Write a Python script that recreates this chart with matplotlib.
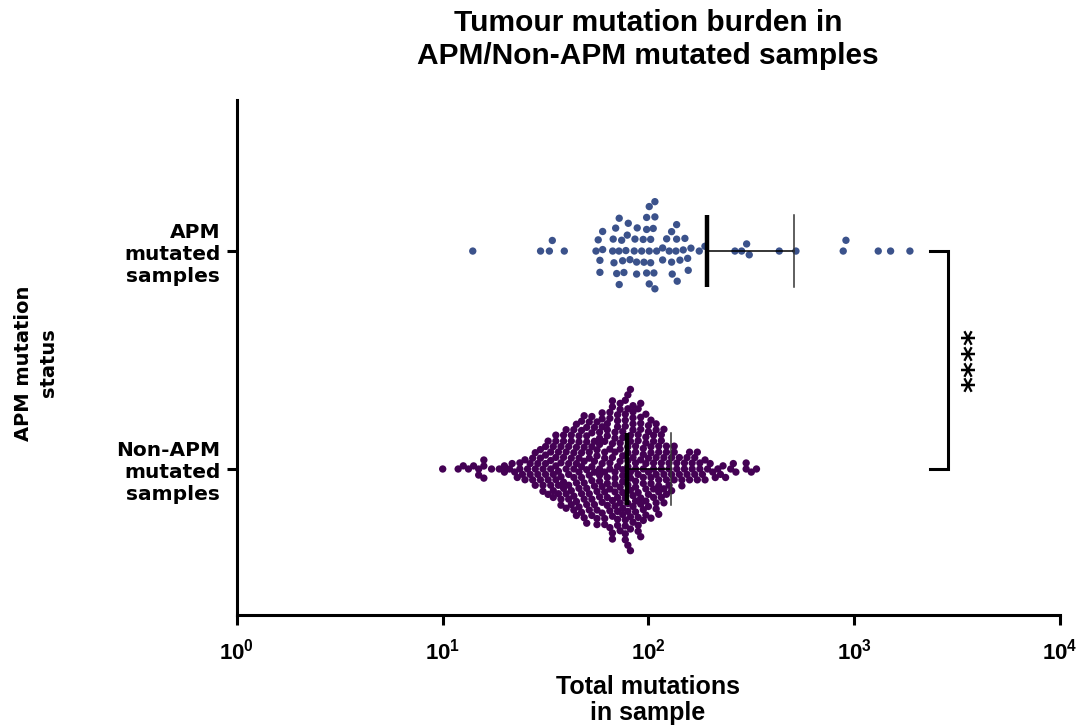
import numpy as np
import matplotlib
matplotlib.use('Agg')
import matplotlib.pyplot as plt

# total mutations per sample, APM mutated group
apm_values = [
    98.0, 107.5,
    59.9, 71.9, 77.7, 106.3, 129.6, 142.3,
    58.1, 67.4, 74.1, 86.0, 92.7, 100.9, 129.6,
    67.0, 72.1, 78.9, 88.2, 95.1, 102.5, 109.6, 117.2, 126.2, 137.1, 150.4, 300.1,
    14.0, 29.9, 39.0, 55.6, 70.1, 79.8, 85.3, 100.9, 122.6, 130.5, 138.0, 147.6,
    156.1, 176.6, 188.2, 263.3, 283.8, 432.3, 521.1, 884.5, 1309, 1503, 1866,
    34.1, 33.0,
    57.0, 69.3, 74.9, 81.3, 87.6, 94.3, 100.9, 105.5, 117.2, 137.1, 155.1, 309.0, 912,
    59.9, 68.0, 76.0, 87.6, 102.5, 136.0, 160.9,
    58.1, 72.1, 98.0, 107.5,
    98.0, 107.5,
]

# non-APM group: mutation count bins and number of samples in each
non_apm_bins = [
    10.0, 10.29, 10.59, 10.90, 11.22, 11.55, 11.89, 12.23, 12.59, 12.96,
    13.34, 13.73, 14.13, 14.54, 14.96, 15.40, 15.85, 16.31, 16.79, 17.28,
    17.78, 18.30, 18.84, 19.39, 19.95, 20.54, 21.13, 21.75, 22.39, 23.04,
    23.71, 24.40, 25.12, 25.85, 26.61, 27.38, 28.18, 29.00, 29.85, 30.72,
    31.62, 32.54, 33.50, 34.47, 35.48, 36.52, 37.58, 38.68, 39.81, 40.97,
    42.17, 43.40, 44.67, 45.97, 47.32, 48.70, 50.12, 51.58, 53.09, 54.64,
    56.23, 57.88, 59.57, 61.31, 63.10, 64.94, 66.83, 68.79, 70.79, 72.86,
    74.99, 77.18, 79.43, 81.75, 84.14, 86.60, 89.13, 91.73, 94.41, 97.17,
    100.0, 102.9, 105.9, 109.0, 112.2, 115.5, 118.9, 122.3, 125.9, 129.6,
    133.4, 137.3, 141.3, 145.4, 149.6, 154.0, 158.5, 163.1, 167.9, 172.8,
    177.8, 183.0, 188.4, 193.9, 199.5, 205.4, 211.3, 217.5, 223.9, 230.4,
    237.1, 244.0, 251.2, 258.5, 266.1, 273.8, 281.8, 290.0, 298.5, 307.2,
    316.2, 325.4, 335.0, 344.7,
]
non_apm_counts = [
    1, 0, 0, 0, 0, 0, 1, 0, 1, 0,
    1, 0, 1, 0, 2, 0, 3, 0, 0, 1,
    0, 0, 1, 0, 2, 0, 1, 1, 1, 1,
    2, 1, 2, 1, 2, 2, 3, 2, 3, 3,
    4, 3, 4, 4, 5, 4, 5, 5, 5, 5,
    5, 6, 6, 6, 7, 6, 7, 6, 7, 6,
    7, 7, 7, 7, 7, 8, 8, 8, 8, 8,
    9, 9, 10, 9, 9, 8, 8, 8, 7, 7,
    6, 6, 6, 6, 6, 5, 5, 4, 3, 3,
    3, 2, 2, 2, 2, 2, 2, 2, 2, 2,
    2, 1, 2, 1, 1, 1, 1, 1, 1, 1,
    1, 0, 1, 1, 1, 0, 0, 0, 2, 0,
    1, 0, 1, 0,
]

group_labels = ['Non-APM\nmutated\nsamples', 'APM\nmutated\nsamples']
group_colors = ['#440154', '#3b528b']
xticks = [1, 10, 100, 1000, 10000]

plt.rcParams['mathtext.fontset'] = 'custom'
plt.rcParams['mathtext.rm'] = 'Liberation Sans:bold'
plt.rcParams['mathtext.it'] = 'Liberation Sans:bold'
plt.rcParams['mathtext.bf'] = 'Liberation Sans:bold'


def swarm(xpix, sx, sy):
    # greedy beeswarm in pixel units: each point sits as close to the
    # centre line as it can without touching the ones already placed
    order = np.argsort(xpix, kind='stable')
    px, py = [], []
    offs = np.zeros(len(xpix))
    for i in order:
        x = xpix[i]
        near = [(a, b) for a, b in zip(px, py) if abs(a - x) < sx]
        cands = [0.0]
        for a, b in near:
            h = sy * np.sqrt(1 - ((a - x) / sx) ** 2)
            cands += [b + h, b - h]
        cands.sort(key=abs)
        for c in cands:
            if all(((a - x) / sx) ** 2 + ((b - c) / sy) ** 2 >= 1 - 1e-6 for a, b in near):
                break
        offs[i] = c
        px.append(x)
        py.append(c)
    return offs


fig = plt.figure(figsize=(10.81, 7.28), dpi=100)
ax = fig.add_axes([0.2192, 0.1552, 0.7613, 0.7074])
ax.set_xscale('log')
ax.set_xlim(1, 10000)
ax.set_ylim(-0.67, 1.693)

non_apm_values = np.repeat(non_apm_bins, non_apm_counts)
data = [np.array(non_apm_values, float), np.array(apm_values, float)]
spacing = [(6.0, 6.0), (6.2, 12.0)]

px_per_unit = fig.get_figheight() * fig.dpi * 0.7074 / (1.693 + 0.67)

for pos, (vals, col, (sx, sy)) in enumerate(zip(data, group_colors, spacing)):
    xpix = ax.transData.transform(np.column_stack([vals, np.zeros(len(vals))]))[:, 0]
    offs = swarm(xpix, sx, sy) / px_per_unit
    ax.scatter(vals, pos + offs, s=28, color=col, edgecolor='none', zorder=2)

    # mean with SD (upper side only on the log axis)
    m = vals.mean()
    sd = vals.std(ddof=1)
    ax.plot([m, m], [pos - 0.166, pos + 0.166], color='black', lw=3.2,
            solid_capstyle='butt', zorder=3)
    ax.plot([m, m + sd], [pos, pos], color='black', lw=1.1, zorder=3)
    ax.plot([m + sd, m + sd], [pos - 0.166, pos + 0.166], color='#333333',
            lw=1.1, zorder=3)

# significance bracket between the two groups
ax.plot([2335, 2856, 2856, 2335], [1, 1, 0, 0], color='black', lw=2.2,
        clip_on=False, solid_joinstyle='miter')
ax.text(3850, 0.5, '****', rotation=90, ha='center', va='center',
        fontsize=22, fontweight='bold', family='DejaVu Sans')

for side in ['top', 'right']:
    ax.spines[side].set_visible(False)
for side in ['left', 'bottom']:
    ax.spines[side].set_linewidth(2.2)

ax.set_xticks(xticks)
ax.set_xticklabels([r'$10^{%d}$' % i for i in range(len(xticks))])
ax.minorticks_off()
ax.tick_params(axis='x', length=7, width=2.2, labelsize=16, pad=9)
ax.set_yticks([0, 1])
ax.set_yticklabels(group_labels, fontsize=14.5, fontweight='bold',
                   family='DejaVu Sans', multialignment='right')
ax.tick_params(axis='y', length=7, width=2.2, pad=5)

fig.text(0.5995, 0.946, 'Tumour mutation burden in\nAPM/Non-APM mutated samples',
         ha='center', va='center', fontsize=21.5, fontweight='bold',
         family='Liberation Sans', linespacing=1.2)
fig.text(0.5995, 1 - 700 / 728, 'Total mutations\nin sample', ha='center',
         va='center', fontsize=18, fontweight='bold', family='Liberation Sans',
         linespacing=1.15)
fig.text(36 / 1081, 1 - 363 / 728, 'APM mutation\nstatus', ha='center',
         va='center', rotation=90, fontsize=14, fontweight='bold',
         family='DejaVu Sans', linespacing=1.35)

fig.savefig('out.png', dpi=100)
